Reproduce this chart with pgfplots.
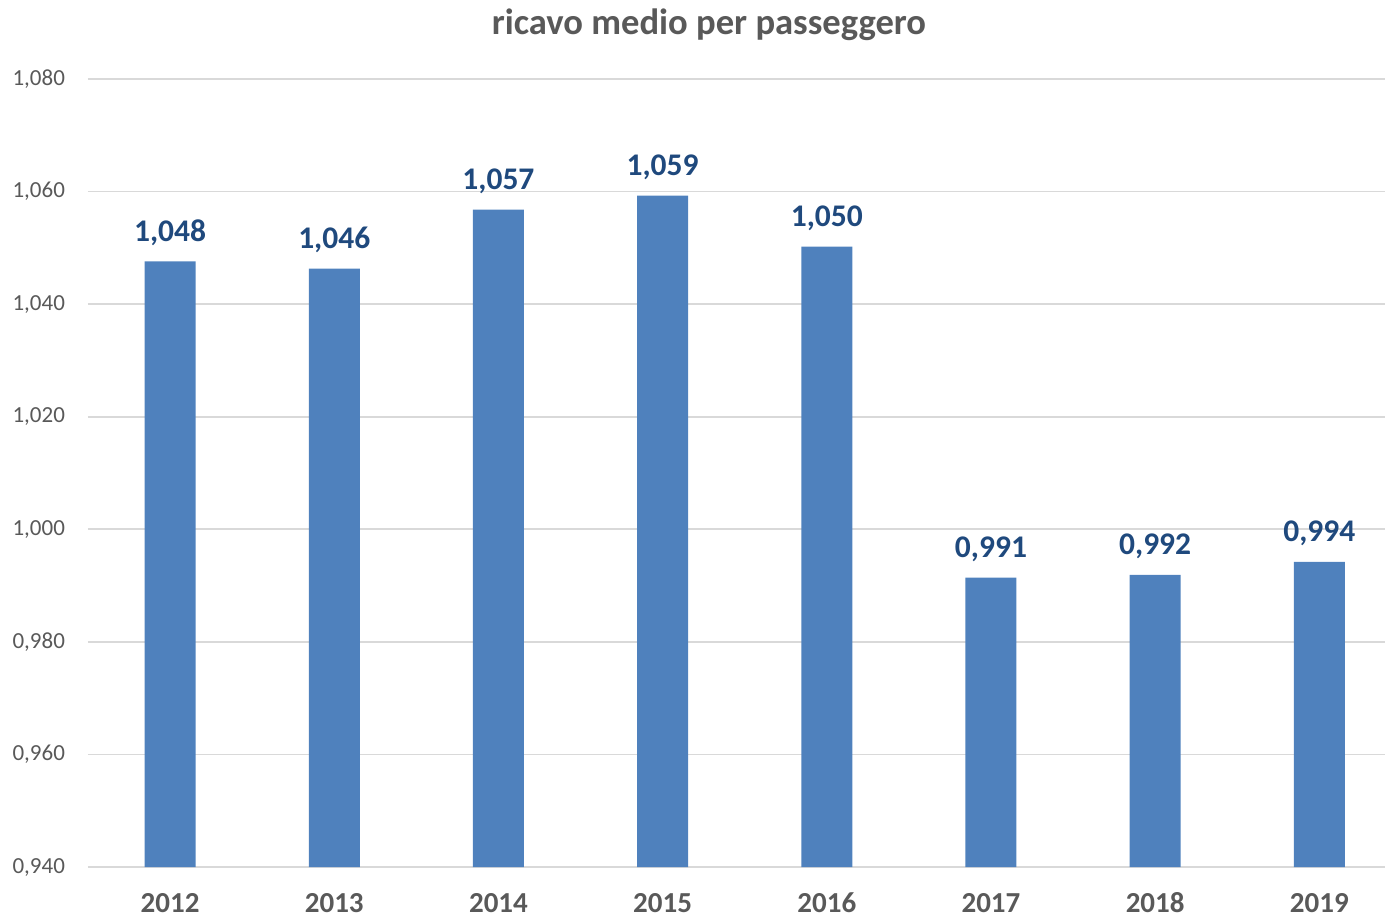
\documentclass[border=0pt]{standalone}
\usepackage{pgfplots}
\pgfplotsset{compat=1.18}
\usepackage{fontspec}
\setmainfont{Carlito}
\definecolor{barblue}{HTML}{4F81BD}
\definecolor{lblblue}{HTML}{1F497D}
\definecolor{txtgray}{HTML}{595959}
\definecolor{gridgray}{HTML}{D9D9D9}
\begin{document}
\begin{tikzpicture}
\begin{axis}[
  at={(0,0)}, anchor=south west,
  scale only axis,
  width=648.5pt, height=394pt,
  ybar, bar width=25.5pt,
  xmin=-0.5, xmax=7.4,
  ymin=0.94, ymax=1.08,
  ytick={0.94,0.96,...,1.081},
  xtick={0,...,7},
  xticklabels={2012,2013,2014,2015,2016,2017,2018,2019},
  axis line style={draw=none},
  axis x line*=bottom,
  ymajorgrids, grid style={gridgray, line width=0.8pt},
  major tick length=0pt,
  /pgf/number format/assume math mode=true,
  yticklabel={\pgfmathprintnumber[fixed,fixed zerofill,precision=3,use comma]{\tick}},
  yticklabel style={font=\fontsize{11.5}{13}\selectfont, text=txtgray, anchor=east, xshift=-8pt},
  xticklabel style={font=\fontsize{14.5}{16}\selectfont\bfseries, text=txtgray, anchor=base, inner sep=0pt, yshift=-22.5pt},
  nodes near coords={\pgfmathprintnumber[fixed,fixed zerofill,precision=3,use comma]{\pgfplotspointmeta}},
  nodes near coords style={font=\fontsize{15.75}{18}\selectfont\bfseries, text=lblblue, anchor=south, yshift=4.5pt},
  clip=false,
]
\draw[gridgray, line width=0.8pt] (axis cs:-0.5,0.94) -- (axis cs:7.4,0.94);
\addplot[fill=barblue, draw=none] coordinates {
(0,1.0476) (1,1.0463) (2,1.0568) (3,1.0593) (4,1.0502) (5,0.9914) (6,0.9919) (7,0.9942)
};
\end{axis}
\node[anchor=base, text=txtgray, font=\fontsize{18.3}{21}\selectfont\bfseries, inner sep=0pt] at (310.5pt, 416pt) {ricavo medio per passeggero};
\pgfresetboundingbox
\useasboundingbox (-44pt,-25pt) rectangle (648.5pt,433.5pt);
\end{tikzpicture}
\end{document}
